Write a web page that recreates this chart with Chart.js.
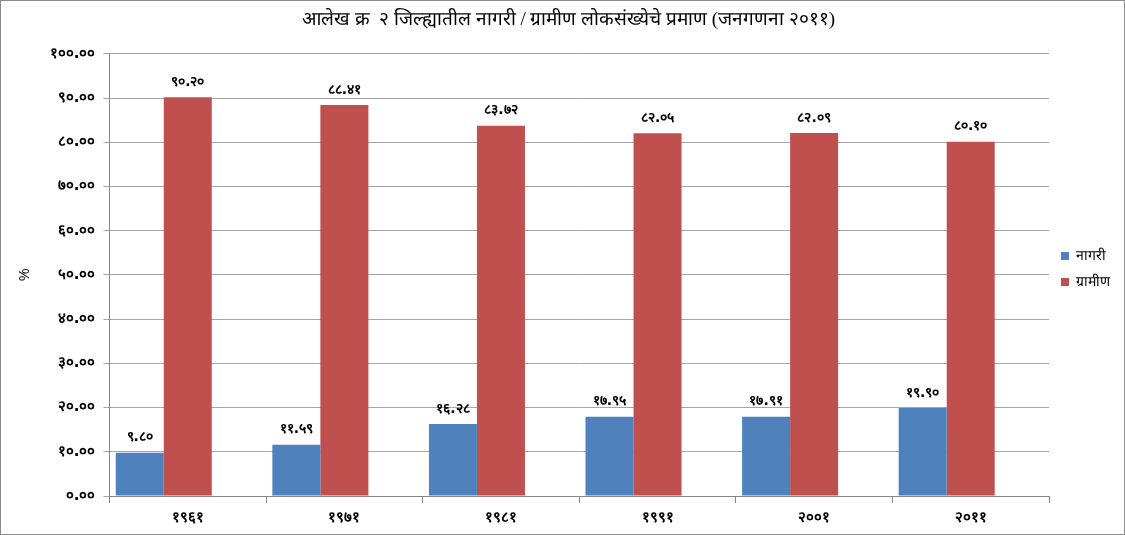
<!DOCTYPE html>
<html>
<head>
<meta charset="utf-8">
<script src="https://cdn.jsdelivr.net/npm/chart.js@4.4.1/dist/chart.umd.min.js"></script>
<style>
  html, body { margin: 0; padding: 0; background: #fff; }
  #wrap { position: relative; width: 1123px; height: 533px; border: 1px solid #8c8c8c; }
</style>
</head>
<body>
<div id="wrap"><canvas id="popChart" width="1123" height="533"></canvas></div>
<script>
// data
const years = ['१९६१', '१९७१', '१९८१', '१९९१', '२००१', '२०११'];
const urban = [9.80, 11.59, 16.28, 17.95, 17.91, 19.90];
const rural = [90.20, 88.41, 83.72, 82.05, 82.09, 80.10];
// the original has an empty third series, which keeps the pair left of centre
const emptySeries = [null, null, null, null, null, null];
const seriesNames = ['नागरी', 'ग्रामीण'];
const chartTitle = 'आलेख क्र  २ जिल्ह्यातील नागरी / ग्रामीण लोकसंख्येचे प्रमाण (जनगणना २०११)';

// western digits -> devanagari digits
const devDigits = '०१२३४५६७८९';
function toDev(str) {
    return String(str).replace(/[0-9]/g, d => devDigits[d]);
}

// small plugin to draw value labels above the bars
const valueLabels = {
    id: 'valueLabels',
    afterDatasetsDraw(chart) {
        const ctx = chart.ctx;
        ctx.save();
        ctx.font = 'bold 14px "DejaVu Sans", sans-serif';
        ctx.fillStyle = '#000';
        ctx.textAlign = 'center';
        ctx.textBaseline = 'bottom';
        chart.data.datasets.forEach((ds, i) => {
            chart.getDatasetMeta(i).data.forEach((bar, j) => {
                if (ds.data[j] == null) return;
                ctx.fillText(toDev(ds.data[j].toFixed(2)), bar.x, bar.y - 8);
            });
        });
        ctx.restore();
    }
};

const ctx = document.getElementById('popChart').getContext('2d');
const popChart = new Chart(ctx, {
    type: 'bar',
    data: {
        labels: years,
        datasets: [
            { label: seriesNames[0], data: urban, backgroundColor: '#4f81bd', borderWidth: 0 },
            { label: seriesNames[1], data: rural, backgroundColor: '#c0504d', borderWidth: 0 },
            { label: '', data: emptySeries, backgroundColor: 'rgba(0,0,0,0)', borderWidth: 0 }
        ]
    },
    options: {
        responsive: false,
        animation: false,
        categoryPercentage: 0.92,
        barPercentage: 1.0,
        layout: { padding: { left: 16, right: 4, top: 4, bottom: 1 } },
        plugins: {
            title: {
                display: true,
                text: chartTitle,
                color: '#000',
                font: { family: '"Liberation Serif", serif', size: 19, weight: 'normal' },
                padding: { top: 4, bottom: 22 }
            },
            legend: {
                position: 'right',
                labels: {
                    boxWidth: 8,
                    boxHeight: 8,
                    color: '#000',
                    font: { family: '"Liberation Serif", serif', size: 14 },
                    padding: 12,
                    filter: item => item.text !== ''
                }
            },
            tooltip: { enabled: false }
        },
        scales: {
            x: {
                grid: { display: true, drawOnChartArea: false, color: '#868686', tickLength: 7 },
                border: { color: '#868686' },
                ticks: {
                    color: '#000',
                    font: { family: '"DejaVu Sans", sans-serif', size: 15, weight: 'bold' },
                    padding: 6
                }
            },
            y: {
                min: 0,
                max: 100,
                ticks: {
                    stepSize: 10,
                    color: '#000',
                    font: { family: '"DejaVu Sans", sans-serif', size: 15, weight: 'bold' },
                    padding: 8,
                    callback: v => toDev(v.toFixed(2))
                },
                grid: { color: '#a6a6a6', tickLength: 6 },
                border: { color: '#868686' },
                title: {
                    display: true,
                    text: '%',
                    color: '#000',
                    font: { size: 14 },
                    padding: { top: 0, bottom: 8 }
                }
            }
        }
    },
    plugins: [valueLabels]
});
</script>
</body>
</html>
